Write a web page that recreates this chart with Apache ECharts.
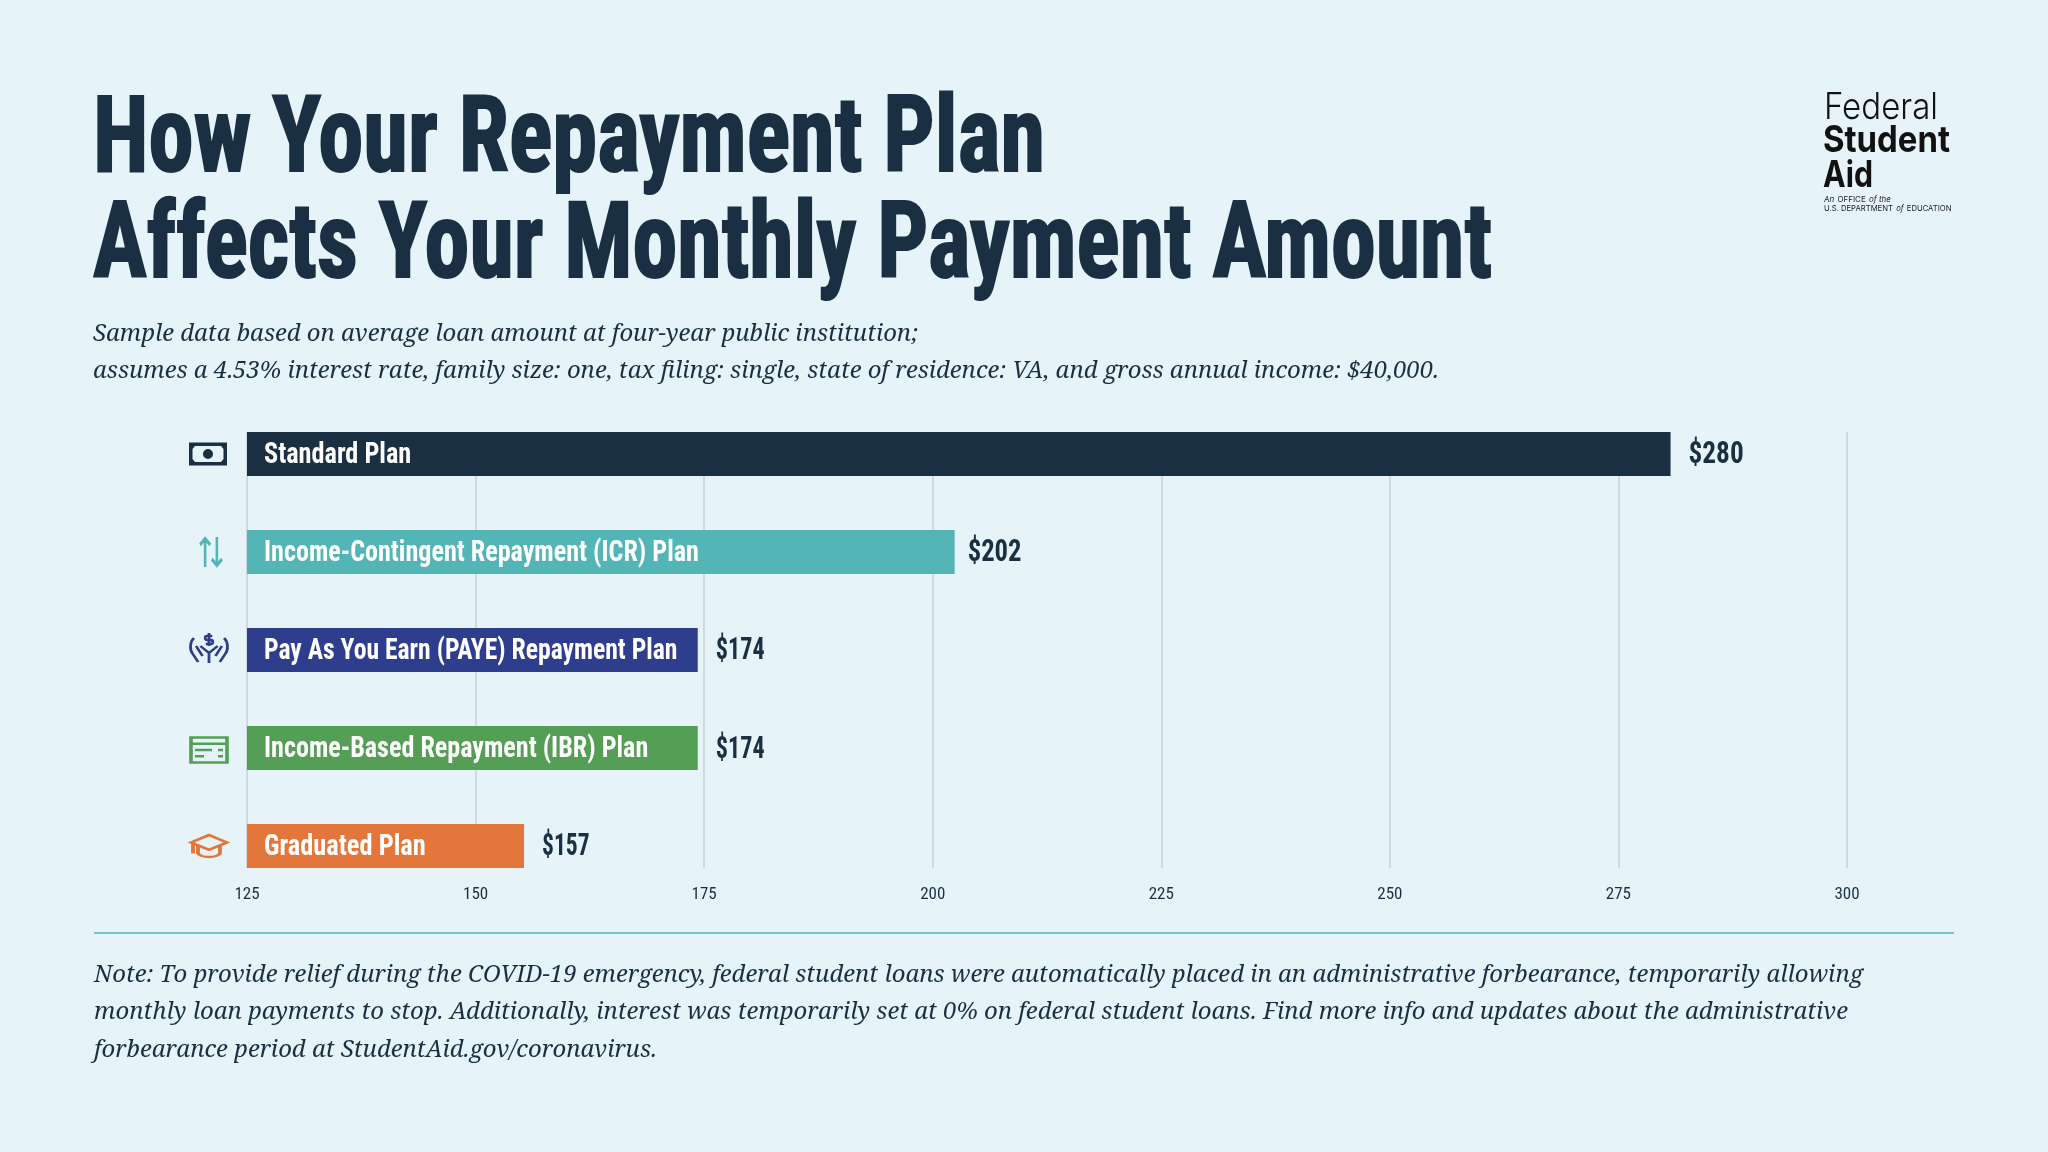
<!DOCTYPE html>
<html><head><meta charset="utf-8">
<style>html,body{margin:0;padding:0;background:#E6F4FA}#c{width:2048px;height:1152px}</style>
<script src="https://cdn.jsdelivr.net/npm/echarts@6/dist/echarts.min.js"></script>
</head><body><div id="c"></div>
<script>
const categories = ['Standard Plan','Income-Contingent Repayment (ICR) Plan','Pay As You Earn (PAYE) Repayment Plan','Income-Based Repayment (IBR) Plan','Graduated Plan'];
const barValues = [280.7,202.4,174.3,174.3,155.3];
const amountLabels = ['$280','$202','$174','$174','$157'];
const barColors = ['#1A3042','#53B5B5','#2F3E8C','#559E55','#E3763B'];
const xMin = 125, xMax = 300, xStep = 25;
const titleLines = ['How Your Repayment Plan','Affects Your Monthly Payment Amount'];
const subtitleLines = ['Sample data based on average loan amount at four-year public institution;','assumes a 4.53% interest rate, family size: one, tax filing: single, state of residence: VA, and gross annual income: $40,000.'];
const noteLines = ['Note: To provide relief during the COVID-19 emergency, federal student loans were automatically placed in an administrative forbearance, temporarily allowing','monthly loan payments to stop. Additionally, interest was temporarily set at 0% on federal student loans. Find more info and updates about the administrative','forbearance period at StudentAid.gov/coronavirus.'];

const COND = '"Roboto Condensed","Open Sans Condensed",sans-serif';
const SERIF = '"Noto Serif","DejaVu Serif Condensed",serif';
const LOGO = 'Inter,"Liberation Sans",sans-serif';
const INK = '#1A3042';

const mc = document.createElement('canvas').getContext('2d');
function fontOf(f){ return `${f.style||'normal'} ${f.weight||'normal'} ${f.size}px ${f.family}`; }
function fitted(text, font, left, midY, width, fill, extra) {
  mc.font = fontOf(font);
  const w = mc.measureText(text).width;
  return {type:'text', x:left, y:midY, scaleX: width ? width / w : 1, silent:true,
    style:Object.assign({text, fill, font:mc.font, verticalAlign:'middle', align:'left'}, extra||{})};
}
const tFont = {weight:'bold', size:106, family:COND};
const sFont = {style:'italic', size:24, family:SERIF};
const smallRich = {i:{fontStyle:'italic',fontSize:8,fontFamily:LOGO,fill:'#222'}, n:{fontSize:8,fontFamily:LOGO,fill:'#222'}};
const graphics = [
  fitted(titleLines[0], tFont, 93, 144, 952, INK, {stroke:INK, lineWidth:2}),
  fitted(titleLines[1], tFont, 93, 250, 1399, INK, {stroke:INK, lineWidth:2}),
  fitted(subtitleLines[0], sFont, 93, 334, 825, INK),
  fitted(subtitleLines[1], sFont, 93, 371, 1346, INK),
  fitted(noteLines[0], sFont, 94, 975, 1769, INK),
  fitted(noteLines[1], sFont, 94, 1012.5, 1754, INK),
  fitted(noteLines[2], sFont, 94, 1050, 563, INK),
  {type:'line', silent:true, shape:{x1:94,y1:933,x2:1954,y2:933}, style:{stroke:'#53B5B5', lineWidth:1.5}},
  fitted('Federal', {size:37, weight:300, family:LOGO}, 1824, 108, 114, '#111'),
  fitted('Student', {size:37, weight:'bold', family:LOGO}, 1823, 141, 127, '#111'),
  fitted('Aid', {size:37, weight:'bold', family:LOGO}, 1823, 175.5, 50, '#111'),
  fitted('An OFFICE of the', {size:8, weight:500, family:LOGO}, 1824, 200, 65, '#222', {text:'{i|An} {n|OFFICE} {i|of the}', rich:smallRich, font:undefined}),
  fitted('U.S. DEPARTMENT of EDUCATION', {size:8, weight:500, family:LOGO}, 1824, 209, 126, '#222', {text:'{n|U.S. DEPARTMENT} {i|of} {n|EDUCATION}', rich:smallRich, font:undefined})
];

const icons = [
  {symbol:'path://M0 0H38V23H0ZM6 3.5L3.5 6.5V16.5L6 19.5H32L34.5 16.5V6.5L32 3.5ZM19 6.5A5 5 0 1 0 19 16.5A5 5 0 1 0 19 6.5Z', size:[38,23], fill:true, dx:-39, dy:0},
  {symbol:'path://M8 38V2M1 10L8 2L15 10M24 0V36M17 28L24 36L31 28', size:[22,30], dx:-36, dy:0},
  {symbol:'path://M22 3H17C15 3 15 7 17 7H21C23 7 23 11 21 11H16M19 0V13M19 30V20L11 13M19 20L27 13M5 5C1 9 1 17 4 21L9 29M7 13L13 23M33 5C37 9 37 17 34 21L29 29M31 13L25 23', size:[37,30], dx:-38, dy:-2, w:2.5},
  {symbol:'path://M1 1H37V25H1ZM1 7H37M5 13H22M28 13H33M5 19H14M28 19H33', size:[36,25], dx:-38, dy:2},
  {symbol:'path://M19 1L37 9L19 17L1 9ZM8 12V21C12 26 26 26 30 21V12M3 10V21', size:[36,22], dx:-38, dy:0}
];

const nameScale = [0.875,0.87,0.855,0.87,0.88];
const amountScale = [0.88,0.86,0.78,0.78,0.76];
const amountGap = [18,13,18,18,18];
const amountDy = [1,1,1,2,1];

const chart = echarts.init(document.getElementById('c'), null, {renderer:'canvas'});
const nameFont = {weight:'bold', size:30, family:COND};
const amountFont = {weight:'bold', size:31, family:COND};
chart.setOption({
  backgroundColor:'#E6F4FA',
  animation:false,
  graphic:graphics,
  grid:[
    {left:247, width:1600, top:432, height:436},
    {left:247, width:1600, top:405, height:490}
  ],
  xAxis:[
    {type:'value', gridIndex:0, min:xMin, max:xMax, interval:xStep, position:'bottom',
     axisLine:{show:false}, axisTick:{show:false},
     splitLine:{show:true, lineStyle:{color:'#C8D2D3', width:1.5}},
     axisLabel:{color:INK, fontFamily:COND, fontWeight:'normal', fontSize:17, margin:18}},
    {type:'value', gridIndex:1, min:xMin, max:xMax, interval:xStep, show:false}
  ],
  yAxis:[
    {type:'value', gridIndex:0, show:false},
    {type:'category', gridIndex:1, inverse:true, data:categories, show:false}
  ],
  series:[
    {type:'bar', xAxisIndex:1, yAxisIndex:1, barWidth:44, z:3,
     data:barValues.map((v,i)=>({value:v, itemStyle:{color:barColors[i]}}))},
    {type:'custom', xAxisIndex:1, yAxisIndex:1, z:4, silent:true,
     data:categories.map((c,i)=>[barValues[i],i]),
     encode:{x:0,y:1},
     renderItem:(params,api)=>{
       const i = params.dataIndex;
       const start = api.coord([xMin, i]);
       const end = api.coord([api.value(0), i]);
       return {type:'group', children:[
         {type:'text', x:start[0]+17, y:start[1]+1, scaleX:nameScale[i],
          style:{text:categories[i], fill:'#fff', font:fontOf(nameFont), verticalAlign:'middle', align:'left'}},
         {type:'text', x:end[0]+amountGap[i], y:end[1]+amountDy[i], scaleX:amountScale[i],
          style:{text:amountLabels[i], fill:INK, font:fontOf(amountFont), verticalAlign:'middle', align:'left'}}
       ]};
     }},
    {type:'scatter', xAxisIndex:1, yAxisIndex:1, clip:false, symbolKeepAspect:false, z:5, silent:true,
     data:icons.map((ic,i)=>({value:[xMin,categories[i]], symbol:ic.symbol, symbolSize:ic.size,
       symbolOffset:[ic.dx,ic.dy],
       itemStyle: ic.fill ? {color:barColors[i], opacity:1} : {color:'transparent', borderColor:barColors[i], borderWidth:ic.w||3, opacity:1}}))}
  ]
});
</script></body></html>
